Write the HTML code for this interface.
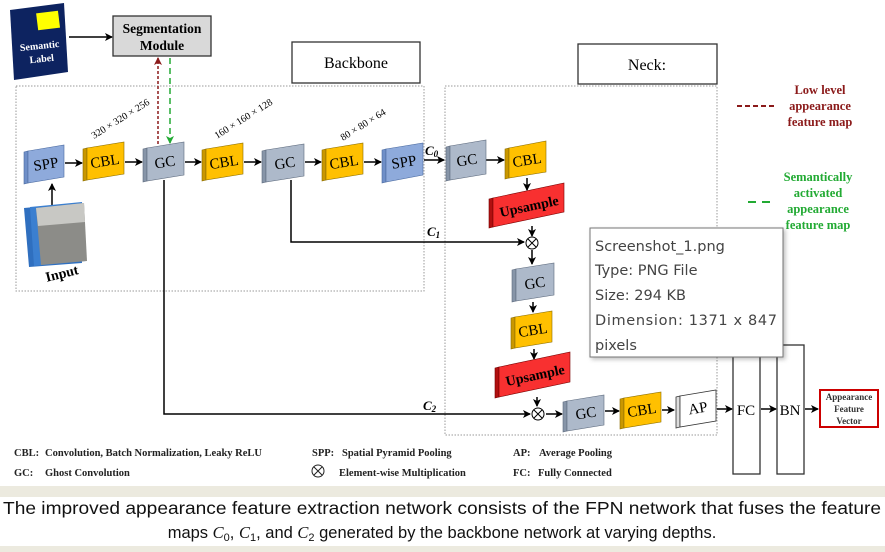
<!DOCTYPE html>
<html><head><meta charset="utf-8"><style>
html,body{margin:0;padding:0;background:#fff;width:885px;height:552px;overflow:hidden}
svg{display:block}
.s{font-family:"Liberation Serif",serif;}
</style></head><body>
<svg width="885" height="552" viewBox="0 0 885 552" xmlns="http://www.w3.org/2000/svg">
<defs>
<marker id="a" markerWidth="8" markerHeight="8" refX="7" refY="4" orient="auto" markerUnits="userSpaceOnUse"><path d="M0,0 L8,4 L0,8 L2,4z" fill="#000"/></marker>
<marker id="ar" markerWidth="8" markerHeight="8" refX="7" refY="4" orient="auto" markerUnits="userSpaceOnUse"><path d="M0,0 L8,4 L0,8 L2,4z" fill="#8b1a1a"/></marker>
<marker id="ag" markerWidth="8" markerHeight="8" refX="7" refY="4" orient="auto" markerUnits="userSpaceOnUse"><path d="M0,0 L8,4 L0,8 L2,4z" fill="#22aa33"/></marker>
<filter id="sh" x="-10%" y="-10%" width="130%" height="130%"><feDropShadow dx="2" dy="2" stdDeviation="2" flood-color="#000" flood-opacity="0.25"/></filter>
</defs>

<polygon points="10,10 64,3 68,72 14,80" fill="#0d2360"/>
<rect x="37" y="12" width="22" height="17" fill="#ffff00" transform="rotate(-7 48 20)"/>
<text class="s" x="40" y="49" font-size="10" font-weight="bold" fill="#fff" text-anchor="middle" transform="rotate(-6 40 50)">Semantic</text>
<text class="s" x="42" y="62" font-size="10" font-weight="bold" fill="#fff" text-anchor="middle" transform="rotate(-6 42 62)">Label</text>
<line x1="69" y1="37" x2="112" y2="37" stroke="#000" stroke-width="1.5" marker-end="url(#a)"/>
<rect x="113" y="16" width="98" height="40" fill="#d9d9d9" stroke="#333" stroke-width="1.3"/>
<text class="s" x="162" y="33" font-size="13.5" font-weight="bold" text-anchor="middle">Segmentation</text>
<text class="s" x="162" y="50" font-size="13.5" font-weight="bold" text-anchor="middle">Module</text>

<rect x="292" y="42" width="128" height="41" fill="#fff" stroke="#333" stroke-width="1.3"/>
<text class="s" x="356" y="68" font-size="16" text-anchor="middle">Backbone</text>
<rect x="578" y="44" width="139" height="40" fill="#fff" stroke="#333" stroke-width="1.3"/>
<text class="s" x="647" y="70" font-size="16" text-anchor="middle">Neck:</text>

<rect x="16" y="86" width="408" height="205" fill="none" stroke="#999" stroke-dasharray="1.5,1.5"/>
<rect x="445" y="86" width="272" height="349" fill="none" stroke="#999" stroke-dasharray="1.5,1.5"/>

<line x1="737" y1="106" x2="775" y2="106" stroke="#8b1a1a" stroke-width="2" stroke-dasharray="5,3"/>
<g class="s" font-size="12.5" font-weight="bold" fill="#8b1a1a" text-anchor="middle">
<text x="820" y="94">Low level</text><text x="820" y="110">appearance</text><text x="820" y="126">feature map</text></g>
<line x1="748" y1="202" x2="775" y2="202" stroke="#22aa33" stroke-width="2" stroke-dasharray="8,6"/>
<g class="s" font-size="12.5" font-weight="bold" fill="#22aa33" text-anchor="middle">
<text x="818" y="181">Semantically</text><text x="818" y="197">activated</text><text x="818" y="213">appearance</text><text x="818" y="229">feature map</text></g>

<line x1="158" y1="144" x2="158" y2="58" stroke="#8b1a1a" stroke-width="1.5" stroke-dasharray="3,2" marker-end="url(#ar)"/>
<line x1="170" y1="58" x2="170" y2="143" stroke="#22aa33" stroke-width="1.5" stroke-dasharray="6,4" marker-end="url(#ag)"/>

<g stroke="#000" stroke-width="1.5" fill="none">
<line x1="52" y1="205" x2="52" y2="184" marker-end="url(#a)"/>
<line x1="65" y1="163" x2="82" y2="163" marker-end="url(#a)"/>
<line x1="125" y1="162" x2="142" y2="162" marker-end="url(#a)"/>
<line x1="185" y1="162" x2="201" y2="162" marker-end="url(#a)"/>
<line x1="244" y1="162" x2="261" y2="162" marker-end="url(#a)"/>
<line x1="305" y1="162" x2="321" y2="162" marker-end="url(#a)"/>
<line x1="364" y1="162" x2="381" y2="162" marker-end="url(#a)"/>
<line x1="424" y1="160" x2="444" y2="160" marker-end="url(#a)"/>
<line x1="486" y1="160" x2="504" y2="160" marker-end="url(#a)"/>
<line x1="527" y1="178" x2="527" y2="190" marker-end="url(#a)"/>
<line x1="532" y1="226" x2="532" y2="236" marker-end="url(#a)"/>
<polyline points="291,180 291,242 524,242" marker-end="url(#a)"/>
<line x1="532" y1="250" x2="532" y2="264" marker-end="url(#a)"/>
<line x1="533" y1="302" x2="533" y2="312" marker-end="url(#a)"/>
<line x1="534" y1="349" x2="534" y2="359" marker-end="url(#a)"/>
<line x1="537" y1="397" x2="537" y2="406" marker-end="url(#a)"/>
<polyline points="164,180 164,414 530,414" marker-end="url(#a)"/>
<line x1="546" y1="414" x2="562" y2="414" marker-end="url(#a)"/>
<line x1="605" y1="411" x2="619" y2="411" marker-end="url(#a)"/>
<line x1="662" y1="410" x2="674" y2="410" marker-end="url(#a)"/>
<line x1="717" y1="409" x2="732" y2="409" marker-end="url(#a)"/>
<line x1="761" y1="409" x2="776" y2="409" marker-end="url(#a)"/>
<line x1="805" y1="409" x2="818" y2="409" marker-end="url(#a)"/>
</g>
<g stroke="#000" stroke-width="1" fill="#fff">
<circle cx="532" cy="243" r="6"/><path d="M528,239 L536,247 M536,239 L528,247"/>
<circle cx="538" cy="414" r="6"/><path d="M534,410 L542,418 M542,410 L534,418"/>
</g>
<g class="s" font-size="13" font-weight="bold" font-style="italic">
<text x="425" y="155">C<tspan font-size="9" dy="2">0</tspan></text>
<text x="427" y="236">C<tspan font-size="9" dy="2">1</tspan></text>
<text x="423" y="410">C<tspan font-size="9" dy="2">2</tspan></text>
</g>
<g class="s" font-size="10">
<text x="94" y="139" transform="rotate(-32 94 139)">320 × 320 × 256</text>
<text x="217" y="139" transform="rotate(-32 217 139)">160 × 160 × 128</text>
<text x="343" y="141" transform="rotate(-32 343 141)">80 × 80 × 64</text>
</g>

<polygon points="24,208 78,203 82,263 29,267" fill="#2f6fbf"/>
<polygon points="30,207 82,202 86,261 34,266" fill="#3b7fd0"/>
<polygon points="36,208 84,203 87,261 41,265" fill="#8c8c88"/>
<polygon points="36,208 84,203 85,222 38,226" fill="#c8c8c4"/>
<text class="s" x="62" y="278" font-size="14" font-weight="bold" text-anchor="middle" transform="rotate(-14 62 274)">Input</text>

<g class="s" font-size="15" text-anchor="middle">
<polygon points="24,152 28,151 28,183 24,184" fill="#6f8fc8" stroke="#4a6aa0" stroke-width=".6"/>
<polygon points="28,151 64,145 64,177 28,183" fill="#8eaadb" stroke="#4a6aa0" stroke-width=".6"/>
<text x="46" y="169" transform="rotate(-9 46 165)">SPP</text>
<polygon points="83,149 87,148 87,180 83,181" fill="#c99700" stroke="#8a6d00" stroke-width=".6"/>
<polygon points="87,148 124,142 124,174 87,180" fill="#ffc000" stroke="#8a6d00" stroke-width=".6"/>
<text x="105" y="166" transform="rotate(-9 105 162)">CBL</text>
<polygon points="143,149 147,148 147,181 143,182" fill="#8795a8" stroke="#5d6a7d" stroke-width=".6"/>
<polygon points="147,148 184,142 184,175 147,181" fill="#adb9ca" stroke="#5d6a7d" stroke-width=".6"/>
<text x="165" y="167" transform="rotate(-9 165 163)">GC</text>
<polygon points="202,150 206,149 206,180 202,181" fill="#c99700" stroke="#8a6d00" stroke-width=".6"/>
<polygon points="206,149 243,143 243,174 206,180" fill="#ffc000" stroke="#8a6d00" stroke-width=".6"/>
<text x="224" y="167" transform="rotate(-9 224 162)">CBL</text>
<polygon points="262,151 266,150 266,182 262,183" fill="#8795a8" stroke="#5d6a7d" stroke-width=".6"/>
<polygon points="266,150 304,144 304,176 266,182" fill="#adb9ca" stroke="#5d6a7d" stroke-width=".6"/>
<text x="285" y="168" transform="rotate(-9 285 164)">GC</text>
<polygon points="322,150 326,149 326,180 322,181" fill="#c99700" stroke="#8a6d00" stroke-width=".6"/>
<polygon points="326,149 363,143 363,174 326,180" fill="#ffc000" stroke="#8a6d00" stroke-width=".6"/>
<text x="344" y="167" transform="rotate(-9 344 162)">CBL</text>
<polygon points="382,150 386,149 386,182 382,183" fill="#6f8fc8" stroke="#4a6aa0" stroke-width=".6"/>
<polygon points="386,149 423,143 423,175 386,182" fill="#8eaadb" stroke="#4a6aa0" stroke-width=".6"/>
<text x="404" y="167" transform="rotate(-9 404 163)">SPP</text>
<polygon points="446,147 450,146 450,180 446,181" fill="#8795a8" stroke="#5d6a7d" stroke-width=".6"/>
<polygon points="450,146 486,140 486,174 450,180" fill="#adb9ca" stroke="#5d6a7d" stroke-width=".6"/>
<text x="467" y="165" transform="rotate(-9 467 161)">GC</text>
<polygon points="505,149 509,148 509,178 505,179" fill="#c99700" stroke="#8a6d00" stroke-width=".6"/>
<polygon points="509,148 546,141 546,172 509,178" fill="#ffc000" stroke="#8a6d00" stroke-width=".6"/>
<text x="527" y="165" transform="rotate(-9 527 160)">CBL</text>
<polygon points="489,199 493,198 493,227 489,228" fill="#b01010" stroke="#700" stroke-width=".6"/>
<polygon points="493,198 564,183 564,212 493,227" fill="#f83030" stroke="#700" stroke-width=".6"/>
<text x="529" y="211" font-size="14" font-weight="bold" transform="rotate(-12 529 206)">Upsample</text>
<polygon points="512,270 516,269 516,301 512,302" fill="#8795a8" stroke="#5d6a7d" stroke-width=".6"/>
<polygon points="516,269 554,263 554,295 516,301" fill="#adb9ca" stroke="#5d6a7d" stroke-width=".6"/>
<text x="535" y="288" transform="rotate(-9 535 284)">GC</text>
<polygon points="511,318 515,317 515,348 511,349" fill="#c99700" stroke="#8a6d00" stroke-width=".6"/>
<polygon points="515,317 552,311 552,342 515,348" fill="#ffc000" stroke="#8a6d00" stroke-width=".6"/>
<text x="533" y="335" transform="rotate(-9 533 331)">CBL</text>
<polygon points="495,368 499,367 499,397 495,398" fill="#b01010" stroke="#700" stroke-width=".6"/>
<polygon points="499,367 570,352 570,382 499,397" fill="#f83030" stroke="#700" stroke-width=".6"/>
<text x="535" y="380" font-size="14" font-weight="bold" transform="rotate(-12 535 375)">Upsample</text>
<polygon points="563,402 567,401 567,431 563,432" fill="#8795a8" stroke="#5d6a7d" stroke-width=".6"/>
<polygon points="567,401 604,395 604,425 567,431" fill="#adb9ca" stroke="#5d6a7d" stroke-width=".6"/>
<text x="586" y="418" transform="rotate(-9 586 414)">GC</text>
<polygon points="620,399 624,398 624,428 620,429" fill="#c99700" stroke="#8a6d00" stroke-width=".6"/>
<polygon points="624,398 661,392 661,422 624,428" fill="#ffc000" stroke="#8a6d00" stroke-width=".6"/>
<text x="642" y="415" transform="rotate(-9 642 411)">CBL</text>
<polygon points="676,397 680,396 680,427 676,428" fill="#ddd" stroke="#333" stroke-width=".8"/>
<polygon points="680,396 716,390 716,421 680,427" fill="#fff" stroke="#333" stroke-width=".8"/>
<text x="698" y="413" transform="rotate(-9 698 409)">AP</text>
</g>

<rect x="733" y="345" width="27" height="129" fill="#fff" stroke="#333" stroke-width="1.3"/>
<rect x="777" y="345" width="27" height="129" fill="#fff" stroke="#333" stroke-width="1.3"/>
<text class="s" x="746" y="415" font-size="15" text-anchor="middle">FC</text>
<text class="s" x="790" y="415" font-size="15" text-anchor="middle">BN</text>
<rect x="820" y="390" width="58" height="37" fill="#fff" stroke="#c00" stroke-width="2"/>
<g class="s" font-size="9" font-weight="bold" text-anchor="middle" fill="#333">
<text x="849" y="400">Appearance</text><text x="849" y="412">Feature</text><text x="849" y="424">Vector</text></g>

<rect x="590" y="228" width="193" height="129" fill="#fff" stroke="#767676" filter="url(#sh)"/>
<g font-family="'DejaVu Sans','Liberation Sans',sans-serif" font-size="14.5" fill="#444">
<text x="595" y="251">Screenshot_1.png</text>
<text x="595" y="275">Type: PNG File</text>
<text x="595" y="300">Size: 294 KB</text>
<text x="595" y="325" textLength="182">Dimension: 1371 x 847</text>
<text x="595" y="350">pixels</text>
</g>

<g class="s" font-size="10.5" font-weight="bold" fill="#222">
<text x="14" y="456">CBL:</text><text x="45" y="456">Convolution, Batch Normalization, Leaky ReLU</text>
<text x="14" y="476">GC:</text><text x="45" y="476">Ghost Convolution</text>
<text x="312" y="456">SPP:</text><text x="342" y="456">Spatial Pyramid Pooling</text>
<text x="339" y="476">Element-wise Multiplication</text>
<text x="513" y="456">AP:</text><text x="539" y="456">Average Pooling</text>
<text x="513" y="476">FC:</text><text x="538" y="476">Fully Connected</text>
</g>
<g stroke="#222" stroke-width="1" fill="none"><circle cx="318" cy="471" r="6"/><path d="M314,467 L322,475 M322,467 L314,475"/></g>

<rect x="0" y="486" width="885" height="11" fill="#eceadf"/>
<rect x="0" y="546" width="885" height="6" fill="#eceadf"/>
<g font-family="'Liberation Sans',sans-serif" fill="#111" text-anchor="middle">
<text x="442" y="514" font-size="17.5" textLength="878" lengthAdjust="spacingAndGlyphs">The improved appearance feature extraction network consists of the FPN network that fuses the feature</text>
<text x="442" y="538" font-size="16.5">maps <tspan font-style="italic" font-family="'Liberation Serif',serif">C</tspan><tspan font-size="11" dy="3">0</tspan><tspan dy="-3">, </tspan><tspan font-style="italic" font-family="'Liberation Serif',serif">C</tspan><tspan font-size="11" dy="3">1</tspan><tspan dy="-3">, and </tspan><tspan font-style="italic" font-family="'Liberation Serif',serif">C</tspan><tspan font-size="11" dy="3">2</tspan><tspan dy="-3">  generated by the backbone network at varying depths.</tspan></text>
</g>
</svg>
</body></html>
